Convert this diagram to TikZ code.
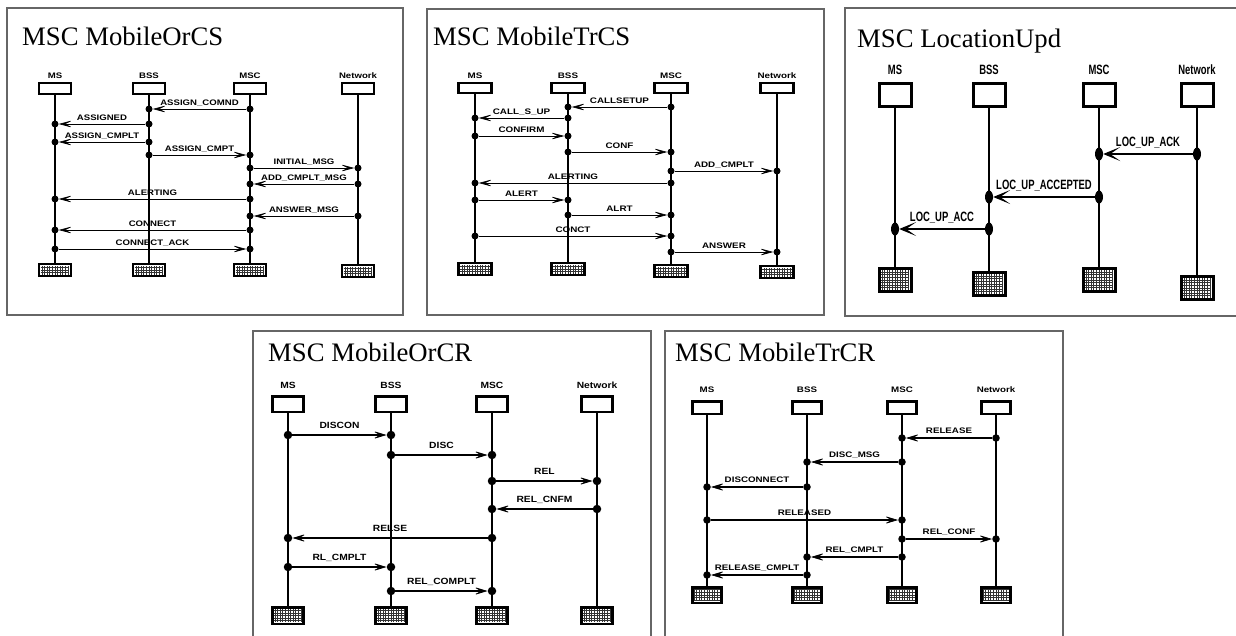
\documentclass[tikz,border=0pt]{standalone}
\usepackage{fontspec}
\usepackage{graphicx}
\setmainfont{Liberation Serif}
\newfontfamily\labfont{Liberation Sans}
\usetikzlibrary{arrows.meta,shapes.geometric}

% horizontally scaled label text (per-panel factor \pSx)
\newcommand\lbltext[1]{\scalebox{\pSx}[1]{#1}}

% one MSC instance: panel, id, x, name, name baseline, head top, end top
\newcommand\mscinstance[7]{%
  \node[headlbl] (#1-#2-name) at (#3,#5) {\lbltext{#4}};
  \node[headbox] (#1-#2-head) at (#3,#6) {};
  \node[endbox]  (#1-#2-end)  at (#3,#7) {};
  \draw[lifeline] (#1-#2-head) -- (#1-#2-end);
}
% one message: panel, from, to, y, label, id
\newcommand\mscmessage[6]{%
  \node[dot] (#1-#6-s) at (#1-#2-head |- 0,#4) {};
  \node[dot] (#1-#6-t) at (#1-#3-head |- 0,#4) {};
  \draw[msgarrow] (#1-#6-s) -- (#1-#6-t) node[midway, lbl] {\lbltext{#5}};
}

\tikzset{
  frame/.style={draw=black!60, line width=1.1pt},
  title/.style={anchor=base west, inner sep=0pt, font=\fontsize{26.7}{26.7}\selectfont},
  headlbl/.style={anchor=base, inner sep=0pt, font=\labfont\bfseries\fontsize{\pFont}{\pFont}\selectfont},
  lbl/.style={anchor=base, yshift=\pGap, inner sep=0pt, font=\labfont\bfseries\fontsize{\pFont}{\pFont}\selectfont},
  headbox/.style={draw, line width=\pBw, fill=white, anchor=north, inner sep=0pt,
    minimum width=\pBoxW, minimum height=\pBoxH},
  endbox/.style={draw, line width=\pBw, fill=white, anchor=north, inner sep=0pt,
    minimum width=\pBoxW, minimum height=\pEndH,
    path picture={\draw[black!80, line width=0.8pt, step=2.6pt]
      ([shift={(1.6pt,1.6pt)}]path picture bounding box.south west) grid
      ([shift={(-1.6pt,-1.6pt)}]path picture bounding box.north east);}},
  lifeline/.style={line width=\pLine},
  dot/.style={ellipse, fill, inner sep=0pt, minimum width=\pDotW, minimum height=\pDotH},
}

\begin{document}
\begin{tikzpicture}[x=1pt, y=-1pt]
\useasboundingbox (0,0) rectangle (1236,635);
\clip (0,0) rectangle (1236,635);

% ---------------- MSC MobileOrCS ----------------
\begin{scope}[msgarrow/.style={line width=0.9pt,
    -{Stealth[length=15pt, width=8pt, inset=8.5pt, line width=0.6pt]}}]
\def\pBw{2.2pt}\def\pBoxW{32pt}\def\pBoxH{11pt}\def\pEndH{12pt}
\def\pLine{2.2pt}\def\pDotW{7pt}\def\pDotH{7pt}
\def\pFont{8}\def\pSx{1.2}\def\pGap{4pt}
\draw[frame] (7,8) rectangle (403,315);
\node[title] (a-title) at (22,45) {MSC MobileOrCS};
\mscinstance{a}{ms}{55}{MS}{78}{82}{263}
\mscinstance{a}{bss}{149}{BSS}{78}{82}{263}
\mscinstance{a}{msc}{250}{MSC}{78}{82}{263}
\mscinstance{a}{net}{358}{Network}{78}{82}{264}
\mscmessage{a}{msc}{bss}{109}{ASSIGN\_COMND}{1}
\mscmessage{a}{bss}{ms}{124}{ASSIGNED}{2}
\mscmessage{a}{bss}{ms}{142}{ASSIGN\_CMPLT}{3}
\mscmessage{a}{bss}{msc}{155}{ASSIGN\_CMPT}{4}
\mscmessage{a}{msc}{net}{168}{INITIAL\_MSG}{5}
\mscmessage{a}{net}{msc}{184}{ADD\_CMPLT\_MSG}{6}
\mscmessage{a}{msc}{ms}{199}{ALERTING}{7}
\mscmessage{a}{net}{msc}{216}{ANSWER\_MSG}{8}
\mscmessage{a}{msc}{ms}{230}{CONNECT}{9}
\mscmessage{a}{ms}{msc}{249}{CONNECT\_ACK}{10}
\end{scope}

% ---------------- MSC MobileTrCS ----------------
\begin{scope}[msgarrow/.style={line width=0.9pt,
    -{Stealth[length=15pt, width=8pt, inset=8.5pt, line width=0.6pt]}}]
\def\pBw{2.2pt}\def\pBoxW{33pt}\def\pBoxH{10pt}\def\pEndH{12pt}
\def\pLine{2.2pt}\def\pDotW{7pt}\def\pDotH{7pt}
\def\pFont{8}\def\pSx{1.23}\def\pGap{4pt}
\draw[frame] (427,9) rectangle (824,315);
\node[title] (b-title) at (433,45) {MSC MobileTrCS};
\mscinstance{b}{ms}{475}{MS}{78}{82}{262}
\mscinstance{b}{bss}{568}{BSS}{78}{82}{262}
\mscinstance{b}{msc}{671}{MSC}{78}{82}{264}
\mscinstance{b}{net}{777}{Network}{78}{82}{265}
\mscmessage{b}{msc}{bss}{107}{CALLSETUP}{1}
\mscmessage{b}{bss}{ms}{118}{CALL\_S\_UP}{2}
\mscmessage{b}{ms}{bss}{136}{CONFIRM}{3}
\mscmessage{b}{bss}{msc}{152}{CONF}{4}
\mscmessage{b}{msc}{net}{171}{ADD\_CMPLT}{5}
\mscmessage{b}{msc}{ms}{183}{ALERTING}{6}
\mscmessage{b}{ms}{bss}{200}{ALERT}{7}
\mscmessage{b}{bss}{msc}{215}{ALRT}{8}
\mscmessage{b}{ms}{msc}{236}{CONCT}{9}
\mscmessage{b}{msc}{net}{252}{ANSWER}{10}
\end{scope}

% ---------------- MSC LocationUpd ----------------
\begin{scope}[msgarrow/.style={line width=1.4pt,
    -{Stealth[length=17pt, width=14pt, inset=10pt, line width=1pt]}}]
\def\pBw{3pt}\def\pBoxW{32pt}\def\pBoxH{23pt}\def\pEndH{23pt}
\def\pLine{2.4pt}\def\pDotW{8pt}\def\pDotH{13pt}
\def\pFont{13.5}\def\pSx{0.7}\def\pGap{8pt}
\draw[frame] (845,8) rectangle (1250,316);
\node[title] (c-title) at (857,47) {MSC LocationUpd};
\mscinstance{c}{ms}{895}{MS}{74}{82}{267}
\mscinstance{c}{bss}{989}{BSS}{74}{82}{271}
\mscinstance{c}{msc}{1099}{MSC}{74}{82}{267}
\mscinstance{c}{net}{1197}{Network}{74}{82}{275}
\mscmessage{c}{net}{msc}{154}{LOC\_UP\_ACK}{1}
\mscmessage{c}{msc}{bss}{197}{LOC\_UP\_ACCEPTED}{2}
\mscmessage{c}{bss}{ms}{229}{LOC\_UP\_ACC}{3}
\end{scope}

% ---------------- MSC MobileOrCR ----------------
\begin{scope}[msgarrow/.style={line width=1.2pt,
    -{Stealth[length=15pt, width=9pt, inset=8.5pt, line width=0.7pt]}}]
\def\pBw{2.6pt}\def\pBoxW{31.5pt}\def\pBoxH{15.5pt}\def\pEndH{16.5pt}
\def\pLine{2.8pt}\def\pDotW{8.5pt}\def\pDotH{8.5pt}
\def\pFont{9}\def\pSx{1.14}\def\pGap{7pt}
\draw[frame] (253,331) rectangle (651,650);
\node[title] (d-title) at (268,361) {MSC MobileOrCR};
\mscinstance{d}{ms}{288}{MS}{388}{395}{606}
\mscinstance{d}{bss}{391}{BSS}{388}{395}{606}
\mscinstance{d}{msc}{492}{MSC}{388}{395}{606}
\mscinstance{d}{net}{597}{Network}{388}{395}{606}
\mscmessage{d}{ms}{bss}{435}{DISCON}{1}
\mscmessage{d}{bss}{msc}{455}{DISC}{2}
\mscmessage{d}{msc}{net}{481}{REL}{3}
\mscmessage{d}{net}{msc}{509}{REL\_CNFM}{4}
\mscmessage{d}{msc}{ms}{538}{RELSE}{5}
\mscmessage{d}{ms}{bss}{567}{RL\_CMPLT}{6}
\mscmessage{d}{bss}{msc}{591}{REL\_COMPLT}{7}
\end{scope}

% ---------------- MSC MobileTrCR ----------------
\begin{scope}[msgarrow/.style={line width=1.1pt,
    -{Stealth[length=15pt, width=9pt, inset=8.5pt, line width=0.7pt]}}]
\def\pBw{2.6pt}\def\pBoxW{29.5pt}\def\pBoxH{12.5pt}\def\pEndH{15.5pt}
\def\pLine{2.6pt}\def\pDotW{7.5pt}\def\pDotH{7.5pt}
\def\pFont{8}\def\pSx{1.22}\def\pGap{5pt}
\draw[frame] (665,331) rectangle (1063,650);
\node[title] (e-title) at (675,361) {MSC MobileTrCR};
\mscinstance{e}{ms}{707}{MS}{392}{400}{586}
\mscinstance{e}{bss}{807}{BSS}{392}{400}{586}
\mscinstance{e}{msc}{902}{MSC}{392}{400}{586}
\mscinstance{e}{net}{996}{Network}{392}{400}{586}
\mscmessage{e}{net}{msc}{438}{RELEASE}{1}
\mscmessage{e}{msc}{bss}{462}{DISC\_MSG}{2}
\mscmessage{e}{bss}{ms}{487}{DISCONNECT}{3}
\mscmessage{e}{ms}{msc}{520}{RELEASED}{4}
\mscmessage{e}{msc}{net}{539}{REL\_CONF}{5}
\mscmessage{e}{msc}{bss}{557}{REL\_CMPLT}{6}
\mscmessage{e}{bss}{ms}{575}{RELEASE\_CMPLT}{7}
\end{scope}

\end{tikzpicture}
\end{document}
